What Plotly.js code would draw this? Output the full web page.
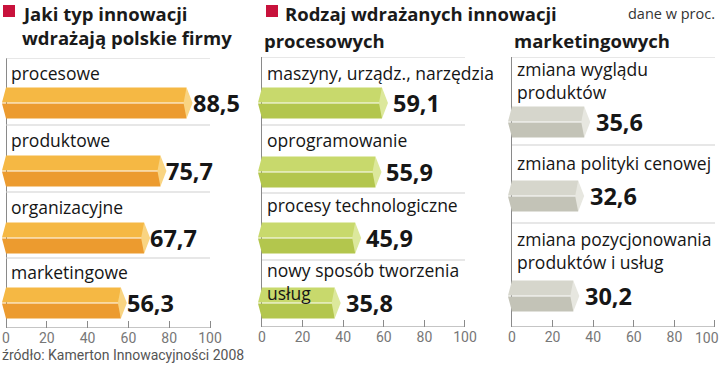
<!DOCTYPE html>
<html>
<head>
<meta charset="utf-8">
<script src="https://cdn.plot.ly/plotly-3.0.1.min.js"></script>
<style>html,body{margin:0;padding:0;background:#fff;}#chart{width:720px;height:366px;}</style>
</head>
<body>
<div id="chart"></div>
<script>
// ---- data ----
const cat1 = ["procesowe", "produktowe", "organizacyjne", "marketingowe"];
const val1 = [88.5, 75.7, 67.7, 56.3];
const cat2 = ["maszyny, urządz., narzędzia", "oprogramowanie", "procesy technologiczne", "nowy sposób tworzenia<br>usług"];
const val2 = [59.1, 55.9, 45.9, 35.8];
const cat3 = ["zmiana wyglądu<br>produktów", "zmiana polityki cenowej", "zmiana pozycjonowania<br>produktów i usług"];
const val3 = [35.6, 32.6, 30.2];
const tickVals = [0, 20, 40, 60, 80, 100];
const tickText = ["0", "20", "40", "60", "80", "100"];
const title1 = ["Jaki typ innowacji", "wdrażają polskie firmy"];
const title2 = "Rodzaj wdrażanych innowacji";
const sub2 = "procesowych";
const sub3 = "marketingowych";
const unitNote = "dane w proc.";
const source = "źródło: Kamerton Innowacyjności 2008";

// ---- layout (pixel positions, styles) ----
const W = 720, H = 366;
const R0 = -2.5, R1 = 102;
const panels = [
  {cats: cat1, vals: val1, px0: 6, px100: 210, top: 58, bottom: 328,
   centers: [103, 171, 238, 303], seps: [58, 125, 192, 258],
   labelY: [73, 140, 207, 272], valShift: 4, edgeLast: false,
   col: {top: '#F5B844', bot: '#EC9B2F', cap: '#F9D482'}},
  {cats: cat2, vals: val2, px0: 262, px100: 465, top: 57, bottom: 327,
   centers: [103, 172, 238, 303], seps: [57, 125, 193, 260],
   labelY: [73, 140, 205, 281], valShift: 9, edgeLast: false,
   col: {top: '#C8D96C', bot: '#B3C64D', cap: '#DCE89C'}},
  {cats: cat3, vals: val3, px0: 512, px100: 715, top: 57, bottom: 327,
   centers: [122, 196, 296], seps: [57, 145, 223],
   labelY: [81, 163, 251], valShift: 10, edgeLast: true,
   col: {top: '#D6D6CC', bot: '#C3C3B7', cap: '#E7E7E0'}}
];

const FONT = 'Open Sans, Noto Sans, sans-serif';
const TICKFONT = {family: 'Roboto, sans-serif', size: 14, color: '#777'};
const traces = [], annotations = [], shapes = [];
const layout = {
  width: W, height: H, autosize: false,
  margin: {l: 0, r: 0, t: 0, b: 0},
  paper_bgcolor: '#fff', plot_bgcolor: 'rgba(0,0,0,0)',
  showlegend: false, barmode: 'overlay',
  hovermode: false
};

panels.forEach((p, i) => {
  const n = i === 0 ? '' : String(i + 1);
  const xa = 'x' + n, ya = 'y' + n;
  const k = (p.px100 - p.px0) / 100; // px per unit
  const d0 = (p.px0 + R0 * k) / W, d1 = (p.px0 + R1 * k) / W;
  const lastIdx = tickVals.length - 1;
  // the last label of the right-most panel sits flush with the page edge
  const tt = p.edgeLast ? tickText.map((t, j) => j === lastIdx ? '' : t) : tickText;
  layout['xaxis' + n] = {
    domain: [d0, d1], range: [R0, R1], anchor: ya,
    tickmode: 'array', tickvals: tickVals, ticktext: tt,
    ticks: 'inside', ticklen: 7, tickwidth: 1, tickcolor: '#8a8a8a',
    showgrid: false, showline: false,
    zeroline: true, zerolinecolor: '#8a8a8a', zerolinewidth: 1,
    tickfont: TICKFONT, fixedrange: true
  };
  layout['yaxis' + n] = {
    domain: [(H - p.bottom) / H, (H - p.top) / H], range: [p.bottom, p.top],
    anchor: xa, showgrid: false, zeroline: false, showticklabels: false,
    showline: false, ticks: '', fixedrange: true
  };
  if (p.edgeLast) {
    annotations.push({xref: xa, yref: ya, x: tickVals[lastIdx], y: p.bottom,
      xanchor: 'right', yanchor: 'top', xshift: 6, yshift: -1, showarrow: false,
      text: tickText[lastIdx], font: TICKFONT});
  }
  const half = 15;
  // bar bodies: upper (light) and lower (dark) faces
  traces.push({type: 'bar', orientation: 'h', xaxis: xa, yaxis: ya,
    x: p.vals, y: p.centers.map(c => c - 8), width: half, base: 0,
    marker: {color: p.col.top, line: {width: 0}}, hoverinfo: 'skip'});
  traces.push({type: 'bar', orientation: 'h', xaxis: xa, yaxis: ya,
    x: p.vals, y: p.centers.map(c => c + 8), width: half, base: 0,
    marker: {color: p.col.bot, line: {width: 0}}, hoverinfo: 'skip'});
  // left pointed ends and right end caps
  const tu = {x: [], y: []}, tl = {x: [], y: []}, cap = {x: [], y: []};
  p.vals.forEach((v, j) => {
    const c = p.centers[j];
    tu.x.push(0, -4 / k, 0, 0, null); tu.y.push(c - 15.5, c - 0.5, c - 0.5, c - 15.5, null);
    tl.x.push(0, -4 / k, 0, 0, null); tl.y.push(c + 0.5, c + 0.5, c + 15.5, c + 0.5, null);
    cap.x.push(v, v + 6 / k, v, v - 3 / k, v, null);
    cap.y.push(c - 15.5, c, c + 15.5, c, c - 15.5, null);
  });
  [[tu, p.col.top], [tl, p.col.bot], [cap, p.col.cap]].forEach(([poly, color]) => {
    traces.push({type: 'scatter', mode: 'lines', xaxis: xa, yaxis: ya,
      x: poly.x, y: poly.y, fill: 'toself', fillcolor: color,
      line: {width: 0, color: color}, hoverinfo: 'skip', cliponaxis: false});
  });
  // separators and baseline
  p.seps.forEach(s => shapes.push({type: 'line', xref: xa, yref: ya,
    x0: 0, x1: 100, y0: s, y1: s, line: {color: '#cfcfcf', width: 1.2}}));
  shapes.push({type: 'line', xref: xa, yref: ya, x0: 0, x1: 100,
    y0: p.bottom, y1: p.bottom, line: {color: '#8a8a8a', width: 1}});
  // category labels
  p.cats.forEach((cat, j) => {
    annotations.push({xref: xa, yref: ya, x: 0, y: p.labelY[j],
      xanchor: 'left', yanchor: 'middle', align: 'left', xshift: 3, showarrow: false,
      text: cat, font: {family: FONT, size: 17.5, color: '#151515'}});
  });
  // value labels
  p.vals.forEach((v, j) => {
    annotations.push({xref: xa, yref: ya, x: v, y: p.centers[j],
      xanchor: 'left', yanchor: 'middle', xshift: p.valShift, showarrow: false,
      text: v.toFixed(1).replace('.', ','),
      font: {family: FONT, size: 23.5, color: '#161616', weight: 700}});
  });
});

// titles
function paperText(text, xpx, ypx, font, xanchor) {
  annotations.push({xref: 'paper', yref: 'paper', x: xpx / W, y: (H - ypx) / H,
    xanchor: xanchor || 'left', yanchor: 'middle', showarrow: false, text: text, font: font});
}
const tFont = {family: FONT, size: 18.5, color: '#1a1a1a', weight: 700};
paperText(title1[0], 20, 13, tFont);
paperText(title1[1], 20, 37, tFont);
paperText(title2, 283, 13, tFont);
paperText(sub2, 262, 40, tFont);
paperText(sub3, 512, 40, tFont);
paperText(unitNote, 717, 13, {family: FONT, size: 14.5, color: '#333'}, 'right');
paperText(source, 0, 355, {family: 'Roboto, sans-serif', size: 14, color: '#555'});

// red markers
[[3, 5, 15, 17], [266, 5, 278, 17]].forEach(([x0, y0, x1, y1]) => shapes.push({
  type: 'rect', xref: 'paper', yref: 'paper', x0: x0 / W, x1: x1 / W,
  y0: (H - y0) / H, y1: (H - y1) / H, fillcolor: '#C8123C', line: {width: 0}}));

layout.annotations = annotations;
layout.shapes = shapes;
Plotly.newPlot('chart', traces, layout, {staticPlot: true, displayModeBar: false});
</script>
</body>
</html>
